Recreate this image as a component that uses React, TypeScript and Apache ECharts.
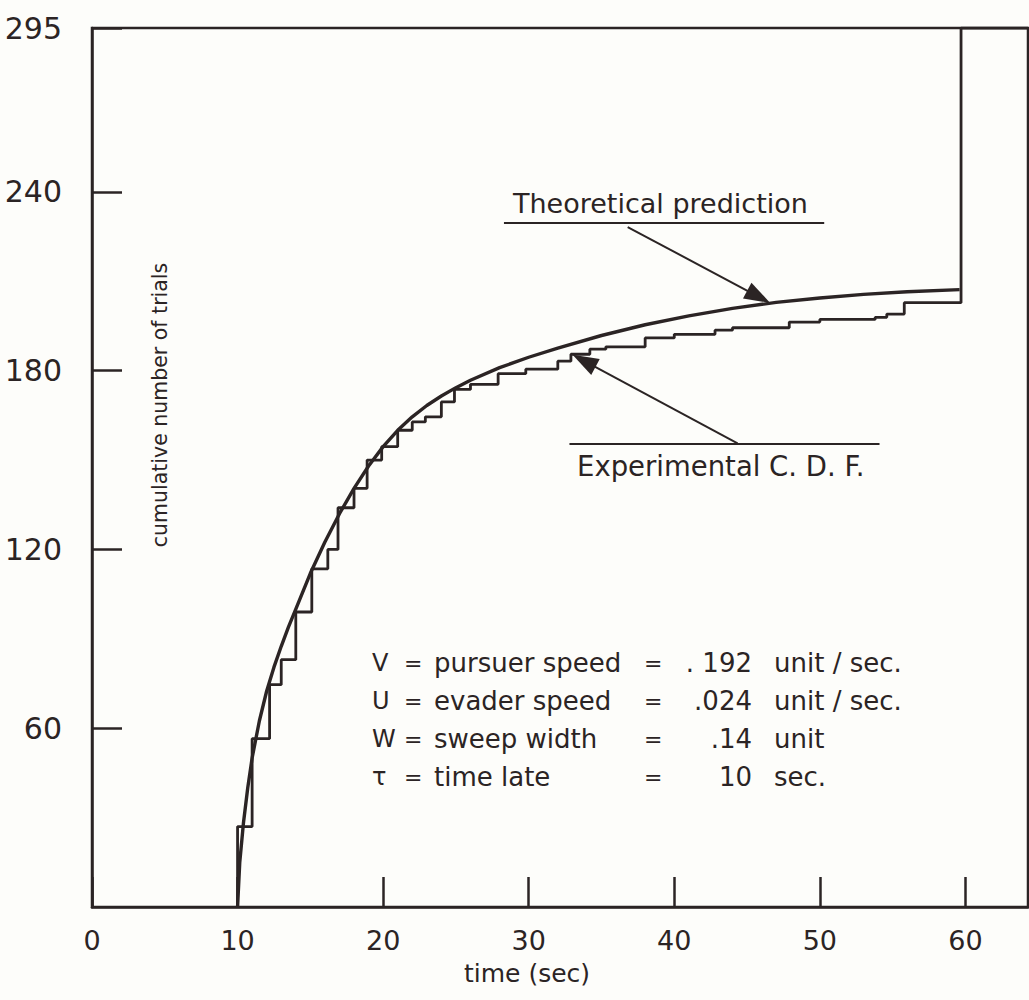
import React, { useEffect, useRef } from "react";
import * as echarts from "echarts";

// ---- data ----
const theoTime = [10, 10.15, 10.4, 10.7, 11, 11.5, 12, 12.5, 13, 13.5, 14, 15, 16, 17, 18, 19, 20, 21, 22, 23, 24, 25, 26, 28, 30, 32, 35, 38, 41, 44, 47, 50, 53, 56, 59.6];
const theoCount = [0, 15, 28, 40, 50, 62.5, 72.5, 80.5, 87.5, 94, 100, 112, 122.5, 132, 140.5, 148, 154.5, 160, 164.5, 168.3, 171.5, 174.3, 176.8, 181, 184.5, 187.6, 191.8, 195.4, 198.4, 200.9, 202.9, 204.4, 205.6, 206.5, 207.2];

const stepTime = [10, 10, 11, 12.2, 13, 14, 15.1, 16.2, 16.9, 18, 18.9, 19.9, 21, 22, 22.9, 24, 24.9, 26, 27.9, 29.8, 32, 32.9, 34.2, 35.3, 38, 40, 42.8, 44, 47.9, 50, 53.8, 54.6, 55.8, 59.7, 64.3];
const stepCount = [0, 27, 56.5, 74.6, 83, 99, 113.5, 120, 134, 140.5, 150, 154.5, 160, 162.8, 164.5, 169.5, 173.7, 175.4, 179, 180.5, 183.2, 185.5, 187.2, 188, 191, 192.2, 193.6, 194.4, 196.3, 197.2, 197.9, 199, 202.8, 295, 295];

const xMin = 0;
const xMax = 64.3;
const xInterval = 10;
const yMin = 0;
const yMax = 295;
const yInterval = 60;

const xAxisTitle = "time (sec)";
const yAxisTitle = "cumulative number of trials";
const theoLabel = "Theoretical prediction";
const expLabel = "Experimental C. D. F.";

const paramSymbols = ["V", "U", "W", "τ"];
const paramNames = ["pursuer speed", "evader speed", "sweep width", "time late"];
const paramValues = [". 192", ".024", ".14", "10"];
const paramUnits = ["unit / sec.", "unit / sec.", "unit", "sec."];

// annotation lines in data coordinates [t, count]
const theoArrow = [[36.8, 228.2], [45.8, 204.8]];
const theoUnderline = [[28.3, 229.5], [50.3, 229.5]];
const expArrow = [[44.35, 155.6], [33.8, 183.3]];
const expOverline = [[32.8, 155.6], [54.1, 155.6]];

const INK = "#2b2424";
const FONT = '"DejaVu Sans", sans-serif';

export default function App() {
  const ref = useRef<HTMLDivElement>(null);
  useEffect(() => {
    const chart = echarts.init(ref.current!, null, { renderer: "svg" });
    const rowY = [663, 701, 739, 777];
    const paramGraphics: any[] = [];
    rowY.forEach((y, i) => {
      const base = { fill: INK, fontSize: 26, fontFamily: FONT, verticalAlign: "middle" };
      paramGraphics.push(
        { type: "text", x: 372, y, style: { ...base, fontSize: 24, text: paramSymbols[i], align: "left" } },
        { type: "text", x: 404, y, style: { ...base, fontSize: 22, text: "=", align: "left" } },
        { type: "text", x: 434, y, style: { ...base, text: paramNames[i], align: "left" } },
        { type: "text", x: 644, y, style: { ...base, fontSize: 22, text: "=", align: "left" } },
        { type: "text", x: 752, y, style: { ...base, text: paramValues[i], align: "right" } },
        { type: "text", x: 774, y, style: { ...base, text: paramUnits[i], align: "left" } }
      );
    });

    const lineItem = (pts: number[][], arrow: boolean) => [
      { coord: pts[0], symbol: "none" },
      { coord: pts[1], symbol: arrow ? "triangle" : "none", symbolSize: arrow ? [18, 26] : 0 },
    ];

    const option: any = {
      animation: false,
      backgroundColor: "#fdfdfa",
      grid: {
        left: 92,
        right: 1,
        top: 28,
        bottom: 93,
        show: true,
        borderColor: INK,
        borderWidth: 2.5,
        containLabel: false,
      },
      xAxis: {
        type: "value",
        min: xMin,
        max: xMax,
        interval: xInterval,
        axisLine: { show: true, lineStyle: { color: INK, width: 2.5 } },
        axisTick: { show: true, inside: true, length: 30, lineStyle: { color: INK, width: 2.5 } },
        axisLabel: { color: INK, fontSize: 27, fontFamily: FONT, margin: 20, showMaxLabel: false },
        splitLine: { show: false },
      },
      yAxis: {
        type: "value",
        min: yMin,
        max: yMax,
        interval: yInterval,
        axisLine: { show: true, lineStyle: { color: INK, width: 2.5 } },
        axisTick: { show: true, inside: true, length: 30, lineStyle: { color: INK, width: 2.5 } },
        axisLabel: { color: INK, fontSize: 30, fontFamily: FONT, margin: 30, showMinLabel: false },
        splitLine: { show: false },
      },
      series: [
        {
          type: "line",
          name: "Theoretical prediction",
          data: theoTime.map((t, i) => [t, theoCount[i]]),
          showSymbol: false,
          smooth: false,
          lineStyle: { color: INK, width: 3.4, join: "round" },
          z: 3,
        },
        {
          type: "line",
          name: "Experimental C. D. F.",
          data: stepTime.map((t, i) => [t, stepCount[i]]),
          showSymbol: false,
          step: "end",
          lineStyle: { color: INK, width: 2.8 },
          z: 2,
          markLine: {
            silent: true,
            animation: false,
            label: { show: false },
            lineStyle: { color: INK, width: 2, type: "solid" },
            itemStyle: { color: INK },
            data: [
              lineItem(theoArrow, true),
              lineItem(theoUnderline, false),
              lineItem(expArrow, true),
              lineItem(expOverline, false),
            ],
          },
        },
      ],
      graphic: [
        {
          type: "text",
          x: 160,
          y: 405,
          rotation: Math.PI / 2,
          style: { text: yAxisTitle, fill: INK, fontSize: 20.5, fontFamily: FONT, align: "center", verticalAlign: "middle" },
        },
        {
          type: "text",
          x: 527,
          y: 973,
          style: { text: xAxisTitle, fill: INK, fontSize: 25, fontFamily: FONT, align: "center", verticalAlign: "middle" },
        },
        {
          type: "text",
          x: 513,
          y: 203,
          style: { text: theoLabel, fill: INK, fontSize: 27, fontFamily: FONT, align: "left", verticalAlign: "middle" },
        },
        {
          type: "text",
          x: 577,
          y: 466,
          style: { text: expLabel, fill: INK, fontSize: 27.5, fontFamily: FONT, align: "left", verticalAlign: "middle" },
        },
        ...paramGraphics,
      ],
    };
    chart.setOption(option);
    return () => chart.dispose();
  }, []);
  return (
    <div
      ref={ref}
      style={{ position: "absolute", left: 0, top: 0, width: 1029, height: 1000 }}
    />
  );
}
